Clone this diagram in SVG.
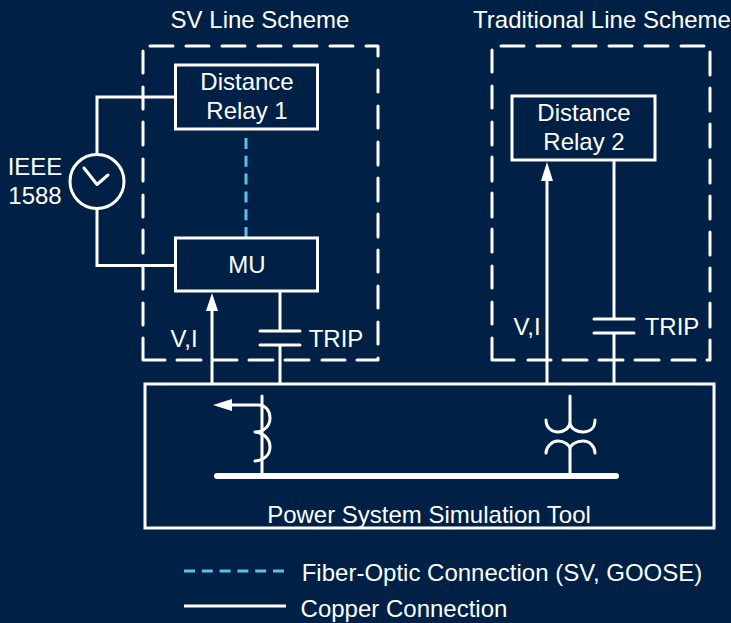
<svg xmlns="http://www.w3.org/2000/svg" width="731" height="623" viewBox="0 0 731 623">
<defs>
<style>
.l{fill:none;stroke:#fff;stroke-width:3}
.b{fill:#002145;stroke:#fff;stroke-width:3}
.f{fill:none;stroke:#5ebfe9;stroke-width:3;stroke-dasharray:11 6.800}
.r{fill:none;stroke:#fff;stroke-width:3;stroke-linecap:round;stroke-linejoin:round}
text{font-family:"Liberation Sans",Arial,sans-serif;font-size:24px;fill:#fff;text-anchor:middle}
</style>
</defs>
<rect width="731" height="623" fill="#002145"/>
<g id="sv-scheme">
<path class="r" d="M150 46H173M186 46H209M222 46H245M258 46H281M294 46H317M330 46H353M366 46H378V56M378 70V92M378 106V128M378 142V165M378 178V201M378 214V237M378 250V272M378 286V308M378 322V344M378 358V360H357M345 360H322M309 360H285M273 360H249M237 360H213M201 360H177M165 360H143V338M143 325V303M143 289V267M143 253V230M143 217V195M143 181V159M143 145V122M143 109V87M143 73V51"/>
<text x="260" y="28">SV Line Scheme</text>
</g>
<g id="traditional-scheme">
<path class="r" d="M501 46H524M537 46H560M573 46H596M609 46H632M645 46H668M681 46H704M710 52V75M710 88V111M710 124V147M710 160V183M710 196V219M710 232V255M710 268V291M710 303V327M710 340V360H707M695 360H672M659 360H635M623 360H599M587 360H563M551 360H528M514 360H492V338M492 324V302M492 288V266M492 252V229M492 217V193M492 181V157M492 145V122M492 108V86M492 72V50"/>
<text x="602" y="28">Traditional Line Scheme</text>
</g>
<g id="connectors">
<path class="l" d="M176 97H97V153M97 209V265.500H176"/>
<path class="f" d="M246 138V237"/>
<path class="l" d="M212 384V300"/>
<path d="M212 293L218 311H206Z" fill="#fff"/>
<path class="l" d="M280 292V331M280 345V384"/>
<path class="l" d="M547 384V170"/>
<path d="M547 162L553 181H541Z" fill="#fff"/>
<path class="l" d="M614 161V319M614 333V384"/>
<path class="r" d="M260 331H300M260 345H300"/>
<path class="r" d="M594 319H634M594 333H634"/>
</g>
<g id="relay1"><rect class="b" x="175.500" y="65" width="142" height="64"/><text x="247" y="90">Distance</text><text x="247" y="119">Relay 1</text></g>
<g id="relay2"><rect class="b" x="512" y="96" width="143" height="64"/><text x="584" y="121">Distance</text><text x="584" y="150">Relay 2</text></g>
<g id="mu"><rect class="b" x="175.500" y="238" width="142" height="53"/><text x="247" y="273">MU</text></g>
<g id="clock">
<circle class="l" cx="97" cy="181.500" r="27"/>
<path class="r" d="M84 168L97 184.500L108 175"/>
<text x="35" y="175">IEEE</text><text x="35" y="204">1588</text>
</g>
<g id="labels">
<text x="184" y="347">V,I</text><text x="336" y="347">TRIP</text>
<text x="527" y="335">V,I</text><text x="672" y="335">TRIP</text>
</g>
<g id="simulation-tool">
<rect class="l" x="145" y="384" width="569" height="144"/>
<path d="M217 476H616" fill="none" stroke="#fff" stroke-width="6" stroke-linecap="round"/>
<path class="r" d="M262 396V476"/>
<path class="r" d="M230 405H258C266 405 270 411 270 418C270 426 264 432 255 432M255 432C264 433 270 439 270 447C270 455 264 460 255 461"/>
<path d="M213 405L232 399V411Z" fill="#fff"/>
<path class="r" d="M570 396V422M546 420C546 428 552 432 558 432C564 432 570 428 570 422C570 428 576 432 583 432C590 432 595 428 595 420M546 453C546 447 552 441 558 441C564 441 570 445 570 449C570 445 576 441 583 441C590 441 595 447 595 453M570 449V473"/>
<text x="429" y="523">Power System Simulation Tool</text>
</g>
<g id="legend">
<path class="f" d="M184 571H286"/>
<path class="l" d="M184 606H286"/>
<text x="502" y="581">Fiber-Optic Connection (SV, GOOSE)</text>
<text x="404" y="617">Copper Connection</text>
</g>
</svg>
